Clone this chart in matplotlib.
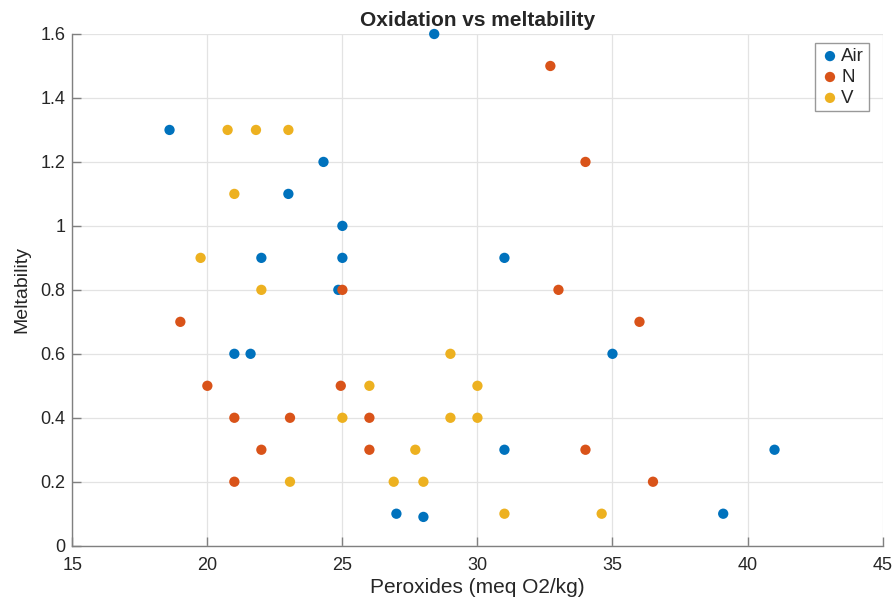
import matplotlib
matplotlib.use("Agg")
import matplotlib.pyplot as plt

plt.rcParams['font.family'] = ['Liberation Sans', 'DejaVu Sans']

air_x = [18.6, 24.3, 23.0, 25.0, 22.0, 25.0, 24.85, 28.4, 31.0, 21.0, 21.6, 35.0, 31.0, 27.0, 28.0, 41.0, 39.1]
air_y = [1.3, 1.2, 1.1, 1.0, 0.9, 0.9, 0.8, 1.6, 0.9, 0.6, 0.6, 0.6, 0.3, 0.1, 0.09, 0.3, 0.1]

n_x = [25.0, 32.7, 34.0, 33.0, 19.0, 20.0, 24.94, 21.0, 23.06, 22.0, 21.0, 36.0, 26.0, 26.0, 34.0, 36.5]
n_y = [0.8, 1.5, 1.2, 0.8, 0.7, 0.5, 0.5, 0.4, 0.4, 0.3, 0.2, 0.7, 0.4, 0.3, 0.3, 0.2]

v_x = [20.75, 21.8, 23.0, 21.0, 19.75, 22.0, 25.0, 23.06, 29.0, 26.0, 30.0, 29.0, 30.0, 27.7, 26.9, 28.0, 31.0, 34.6]
v_y = [1.3, 1.3, 1.3, 1.1, 0.9, 0.8, 0.4, 0.2, 0.6, 0.5, 0.5, 0.4, 0.4, 0.3, 0.2, 0.2, 0.1, 0.1]

series_names = ["Air", "N", "V"]
colors = ["#0072BD", "#D95319", "#EDB120"]

x_ticks = [15, 20, 25, 30, 35, 40, 45]
y_ticks = [0, 0.2, 0.4, 0.6, 0.8, 1.0, 1.2, 1.4, 1.6]
y_labels = ["0", "0.2", "0.4", "0.6", "0.8", "1", "1.2", "1.4", "1.6"]

fig = plt.figure(figsize=(8.96, 6.06), dpi=100)
ax = fig.add_axes([0.0807, 0.0995, 0.9043, 0.8444])

for xs, ys, name, c in zip([air_x, n_x, v_x], [air_y, n_y, v_y], series_names, colors):
    ax.scatter(xs, ys, s=55, color=c, edgecolors='none', label=name, zorder=3, clip_on=False)

ax.set_xlim(15, 45)
ax.set_ylim(0, 1.6)
ax.set_xticks(x_ticks)
ax.set_yticks(y_ticks)
ax.set_yticklabels(y_labels)

ax.grid(True, color="#e3e3e3", linewidth=0.9, zorder=0)
ax.set_axisbelow(True)
for side in ["top", "right"]:
    ax.spines[side].set_visible(False)
for side in ["left", "bottom"]:
    ax.spines[side].set_color("#808080")
    ax.spines[side].set_linewidth(1.0)
ax.tick_params(direction="in", length=6.5, color="#808080", labelsize=13, labelcolor="#262626", width=1.0)
ax.tick_params(axis="x", pad=8)
ax.tick_params(axis="y", pad=5)

ax.set_xlabel("Peroxides (meq O2/kg)", fontsize=15, color="#262626", labelpad=3)
ax.set_ylabel("Meltability", fontsize=14, color="#262626", labelpad=7)
ax.set_title("Oxidation vs meltability", fontsize=15, fontweight="bold", color="#262626", pad=6)

leg = ax.legend(loc="upper right", bbox_to_anchor=(0.983, 0.982), fontsize=13.5, frameon=True, fancybox=False,
                handletextpad=0.05, borderpad=0.25, labelspacing=0.2, handlelength=1.1, borderaxespad=0.0,
                scatterpoints=1, markerscale=1.0)
leg.get_frame().set_edgecolor("#808080")
leg.get_frame().set_linewidth(1.0)
for t in leg.get_texts():
    t.set_color("#262626")

fig.savefig("out.png", dpi=100, facecolor="white")
